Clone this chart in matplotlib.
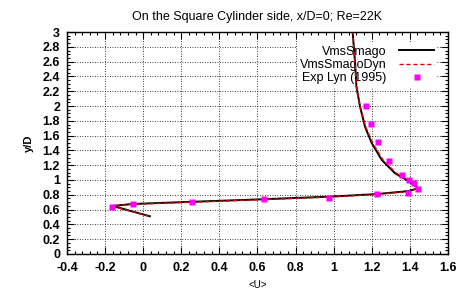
import matplotlib
matplotlib.use("Agg")
import matplotlib.pyplot as plt
from matplotlib.ticker import MultipleLocator, FuncFormatter

plt.rcParams['font.family'] = ['Liberation Sans', 'DejaVu Sans']

# VmsSmago profile
smago_u = [0.035, -0.05, -0.16, -0.06, 0.09, 0.63, 0.98, 1.227, 1.393, 1.445, 1.428,
           1.384, 1.323, 1.253, 1.20, 1.165, 1.139, 1.12, 1.113, 1.10]
smago_y = [0.51, 0.57, 0.65, 0.675, 0.69, 0.74, 0.775, 0.81, 0.85, 0.89, 0.92,
           1.0, 1.09, 1.27, 1.50, 1.72, 1.99, 2.26, 2.58, 3.0]
# VmsSmagoDyn profile
dyn_u = [0.03, -0.055, -0.165, -0.065, 0.09, 0.63, 0.98, 1.23, 1.395, 1.44, 1.43,
         1.39, 1.33, 1.26, 1.205, 1.168, 1.14, 1.12, 1.112, 1.10]
dyn_y = [0.51, 0.57, 0.645, 0.67, 0.685, 0.735, 0.77, 0.805, 0.845, 0.885, 0.92,
         1.0, 1.09, 1.27, 1.50, 1.72, 1.99, 2.26, 2.58, 3.0]
# Exp Lyn (1995)
exp_u = [-0.163, -0.056, 0.254, 0.634, 0.978, 1.228, 1.393, 1.442, 1.424, 1.398,
         1.36, 1.291, 1.234, 1.195, 1.171]
exp_y = [0.64, 0.67, 0.70, 0.74, 0.75, 0.81, 0.83, 0.88, 0.955, 1.0,
         1.07, 1.26, 1.51, 1.757, 2.0]


def fmt(v, p):
    if abs(v) < 1e-9:
        return "0"
    return f"{v:.1f}".rstrip("0").rstrip(".")


fig = plt.figure(figsize=(4.57, 2.95), dpi=100)
ax = fig.add_axes([0.1466, 0.139, 0.8334, 0.7525])

ax.plot(smago_u, smago_y, "-", color="black", lw=1.4, label="VmsSmago", zorder=2)
ax.plot(dyn_u, dyn_y, "--", color="#e00000", lw=1.0, dashes=(3, 2), label="VmsSmagoDyn", zorder=2.1)
ax.plot(exp_u, exp_y, "s", color="#ff00ff", ms=5, mec="none", label="Exp Lyn (1995)", zorder=3)

ax.set_xlim(-0.4, 1.6)
ax.set_ylim(0, 3)
ax.xaxis.set_major_locator(MultipleLocator(0.2))
ax.xaxis.set_minor_locator(MultipleLocator(0.04))
ax.yaxis.set_major_locator(MultipleLocator(0.2))
ax.yaxis.set_minor_locator(MultipleLocator(0.05))
ax.xaxis.set_major_formatter(FuncFormatter(fmt))
ax.yaxis.set_major_formatter(FuncFormatter(fmt))
ax.tick_params(which="both", direction="in", top=True, right=True, labelsize=9, width=0.8)
ax.tick_params(which="major", length=5)
ax.tick_params(which="minor", length=2.5)
ax.tick_params(axis="x", pad=6)
ax.tick_params(axis="y", pad=5)
for lab in ax.get_xticklabels() + ax.get_yticklabels():
    lab.set_fontweight("bold")
ax.set_axisbelow(True)
ax.grid(True, which="major", linestyle=(0, (1, 2)), color="black", lw=0.6)
for s in ax.spines.values():
    s.set_linewidth(1.0)

ax.set_title("On the Square Cylinder side, x/D=0; Re=22K", fontsize=9, pad=9)
ax.set_xlabel("<U>", fontsize=7, labelpad=4)
ax.set_ylabel("y/D", fontsize=8, fontweight="bold", labelpad=6)

leg = ax.legend(loc="upper right", markerfirst=False, frameon=True, fontsize=9,
                handlelength=2.8, labelspacing=0.1, borderpad=0.2, handletextpad=1.0,
                borderaxespad=0.9, fancybox=False)
leg.get_frame().set_edgecolor("none")
leg.get_frame().set_facecolor("white")
leg.get_frame().set_alpha(1)
leg.set_zorder(1)

fig.savefig("out.png", dpi=100)
